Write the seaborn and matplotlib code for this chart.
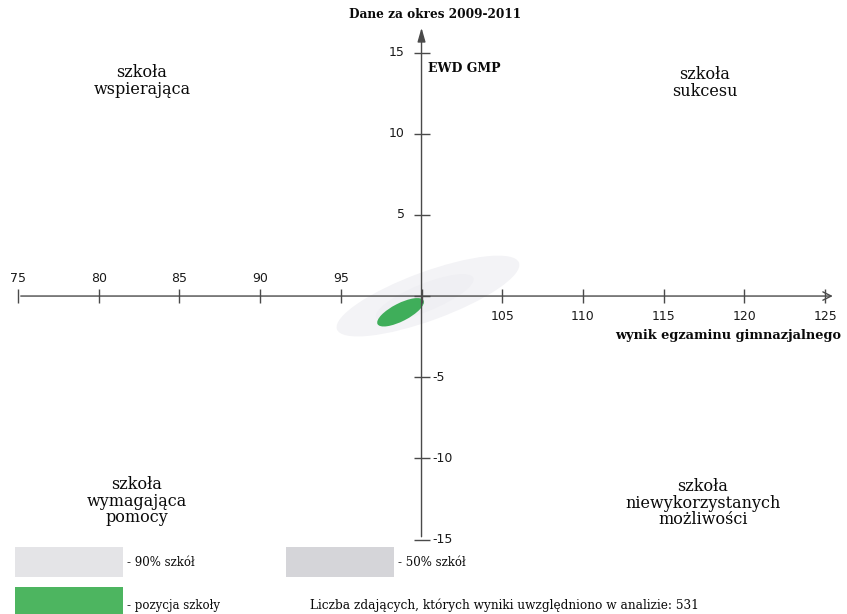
import matplotlib.pyplot as plt
import seaborn as sns
from matplotlib.patches import Ellipse, Rectangle

# tick values on both axes
x_ticks = [75, 80, 85, 90, 95, 100, 105, 110, 115, 120, 125]
y_ticks = [15, 10, 5, 0, -5, -10, -15]

# ellipses: 90% of schools, 50% of schools, position of the school
ell_names = ["90% szkół", "50% szkół", "pozycja szkoły"]
ell_x = [100.4, 100.2, 98.7]
ell_y = [0.0, -0.1, -1.0]
ell_w = [12.0, 6.5, 3.2]
ell_h = [3.0, 1.7, 1.1]
ell_angle = [20, 22, 27]

quadrants = [
    "szkoła\nwspierająca",
    "szkoła\nsukcesu",
    "szkoła\nwymagająca\npomocy",
    "szkoła\nniewykorzystanych\nmożliwości",
]
n_students = 531

W, H = 847, 614


def px(x, y):
    return x / W, 1 - y / H


def main():
    sns.set_theme(style="white")
    plt.rcParams["font.family"] = ["DejaVu Serif"]

    fig = plt.figure(figsize=(W / 100, H / 100), dpi=100)
    ax = fig.add_axes([0, 0, 1, 1])
    ax.set_xlim(73.885, 126.36)
    ax.set_ylim(-19.59, 18.24)
    ax.axis("off")

    fills = ["#f3f3f6", "#efeff3", "#3fae5a"]
    for i in range(len(ell_names)):
        ax.add_patch(
            Ellipse(
                (ell_x[i], ell_y[i]),
                ell_w[i],
                ell_h[i],
                angle=ell_angle[i],
                fc=fills[i],
                ec="none",
                zorder=1 + i,
            )
        )

    axc = "#4a4a4a"
    ax.annotate(
        "",
        xy=(125.65, 0),
        xytext=(x_ticks[0], 0),
        arrowprops=dict(arrowstyle="->,head_length=0.5,head_width=0.25", color=axc, lw=1.0),
        zorder=5,
    )
    ax.annotate(
        "",
        xy=(100, 16.7),
        xytext=(100, y_ticks[-1]),
        arrowprops=dict(arrowstyle="-|>,head_length=0.7,head_width=0.2", color=axc, lw=1.0),
        zorder=5,
    )
    ax.plot(x_ticks, [0] * len(x_ticks), ls="none", marker="|", ms=10, mew=1.0, color=axc, zorder=5)
    ax.plot([100] * len(y_ticks), y_ticks, ls="none", marker="_", ms=12, mew=1.0, color=axc, zorder=5)

    tick_font = dict(family="DejaVu Sans", size=9, color="#1a1a1a")
    for t in x_ticks:
        if t < 100:
            ax.annotate(str(t), (t, 0), xytext=(0, 8), textcoords="offset points",
                        ha="center", va="bottom", **tick_font)
        elif t > 100:
            ax.annotate(str(t), (t, 0), xytext=(0, -10), textcoords="offset points",
                        ha="center", va="top", **tick_font)
    for t in y_ticks:
        if t > 0:
            ax.annotate(str(t), (100, t), xytext=(-12, 0), textcoords="offset points",
                        ha="right", va="center", **tick_font)
        elif t < 0:
            ax.annotate(str(t), (100, t), xytext=(8, 0), textcoords="offset points",
                        ha="left", va="center", **tick_font)

    fig.text(*px(435, 15), "Dane za okres 2009-2011", ha="center", va="center",
             fontsize=8.7, fontweight="bold", color="#0a0a0a")
    fig.text(*px(428, 68), "EWD GMP", ha="left", va="center",
             fontsize=9, fontweight="bold", color="#0a0a0a")
    fig.text(*px(841, 336), "wynik egzaminu gimnazjalnego", ha="right", va="center",
             fontsize=9.3, fontweight="bold", color="#0a0a0a")

    q_pos = [(142, 81), (705, 83), (137, 501), (703, 503)]
    for label, (qx, qy) in zip(quadrants, q_pos):
        fig.text(*px(qx, qy), label, ha="center", va="center", fontsize=11.5,
                 linespacing=0.95, color="#0a0a0a")

    # legend
    leg_colors = ["#e4e4e7", "#d5d5d9", "#4db560"]
    leg_boxes = [(15, 547), (286, 547), (15, 587)]
    leg_text = [(127, 563), (398, 563), (127, 605)]
    for i in range(3):
        bx, by = leg_boxes[i]
        fig.patches.append(
            Rectangle(px(bx, by + 30), 108 / W, 30 / H, transform=fig.transFigure,
                      fc=leg_colors[i], ec="none")
        )
        fig.text(*px(*leg_text[i]), f"- {ell_names[i]}", ha="left", va="center",
                 fontsize=8.5, color="#0a0a0a")
    fig.text(*px(310, 605), f"Liczba zdających, których wyniki uwzględniono w analizie: {n_students}",
             ha="left", va="center", fontsize=8.7, color="#0a0a0a")

    fig.savefig("out.png", dpi=100)


if __name__ == "__main__":
    main()
